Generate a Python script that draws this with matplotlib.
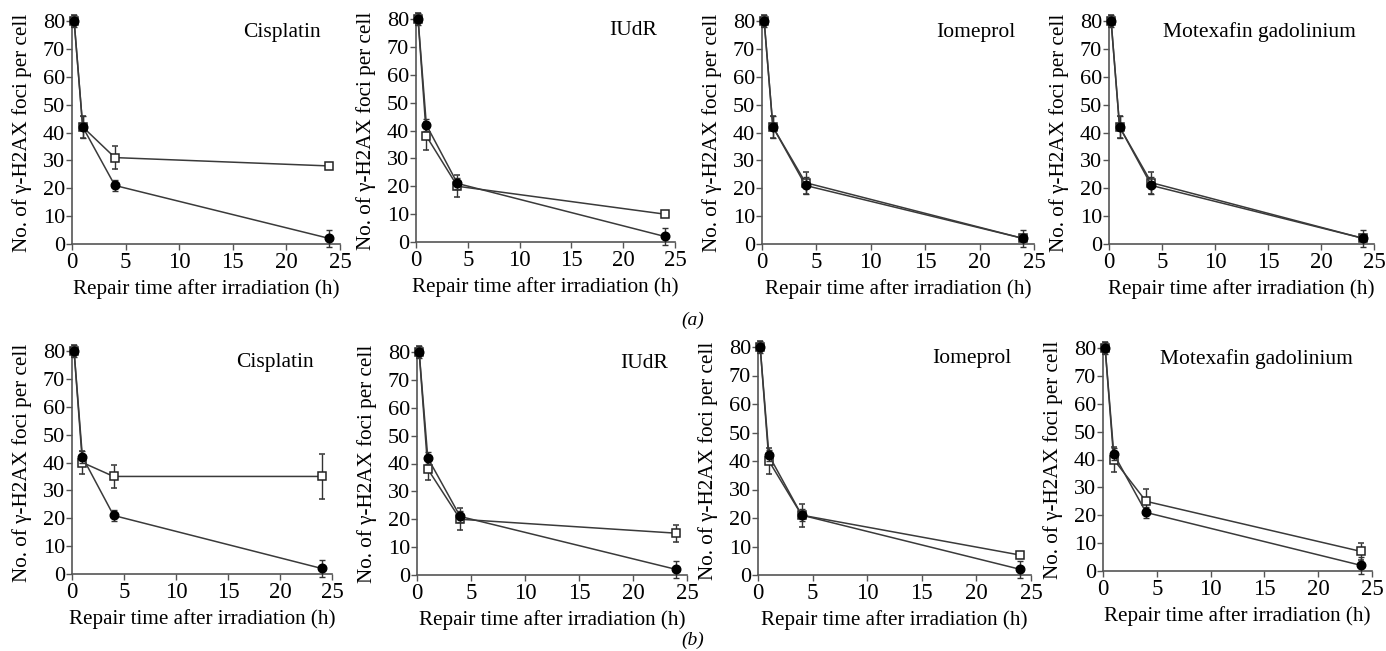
import numpy as np
import matplotlib
matplotlib.use("Agg")
import matplotlib.pyplot as plt

plt.rcParams['font.family'] = ['Liberation Serif', 'DejaVu Serif']

# Données
times = [0.2, 1, 4, 24]
agents = ["Cisplatin", "IUdR", "Iomeprol", "Motexafin gadolinium"]

# (a) : série pleine (cercles) et série ouverte (carrés)
a_filled = [[80, 42, 21, 2], [80, 42, 21, 2], [80, 42, 21, 2], [80, 42, 21, 2]]
a_filled_err = [[2, 4, 2, 3], [2, 2, 2, 3], [2, 4, 3, 3], [2, 4, 3, 3]]
a_open = [[80, 42, 31, 28], [80, 38, 20, 10], [80, 42, 22, 2], [80, 42, 22, 2]]
a_open_err = [[2, 4, 4, 1], [2, 5, 4, 1], [2, 4, 4, 1], [2, 4, 4, 1]]

# (b)
b_filled = [[80, 42, 21, 2], [80, 42, 21, 2], [80, 42, 21, 2], [80, 42, 21, 2]]
b_filled_err = [[2, 2, 2, 3], [2, 2, 2, 3], [2, 2, 2, 3], [2, 2, 2, 3]]
b_open = [[80, 40, 35, 35], [80, 38, 20, 15], [80, 40, 21, 7], [80, 40, 25, 7]]
b_open_err = [[2, 4, 4, 8], [2, 4, 4, 3], [2, 4.5, 4, 1], [2, 4.5, 4.5, 3]]

# Positions des axes en pixels : (x0, x25, y80, y0)
W, H = 1386, 651
layout_a = [(72, 340, 21, 244), (416, 675, 19, 242), (762, 1034, 21, 244), (1109, 1374, 21, 244)]
layout_b = [(72, 332, 351, 574), (417, 687, 352, 575), (758, 1031, 347, 575), (1103, 1372, 348, 571)]

fig = plt.figure(figsize=(W / 100, H / 100), dpi=100)


def draw_panel(box, name, filled, ferr, opn, oerr):
    x0, x1, ytop, ybot = box
    ax = fig.add_axes([x0 / W, 1 - ybot / H, (x1 - x0) / W, (ybot - ytop) / H])
    line_col = "#3a3a3a"
    ax.errorbar(times, opn, yerr=oerr, color=line_col, lw=1.1, marker="s", ms=5.5,
                mfc="white", mec="#222222", mew=1.1, ecolor="#333333", elinewidth=1,
                capsize=2, clip_on=False, zorder=3)
    ax.errorbar(times, filled, yerr=ferr, color=line_col, lw=1.1, marker="o", ms=6.2,
                mfc="black", mec="black", ecolor="#333333", elinewidth=1,
                capsize=2, clip_on=False, zorder=4)
    ax.set_xlim(0, 25)
    ax.set_ylim(0, 80)
    ax.set_xticks([0, 5, 10, 15, 20, 25])
    ax.set_yticks(range(0, 81, 10))
    for s in ["top", "right"]:
        ax.spines[s].set_visible(False)
    for s in ["left", "bottom"]:
        ax.spines[s].set_color("#555555")
        ax.spines[s].set_linewidth(1.2)
    ax.tick_params(axis="x", direction="out", length=4, width=1, color="#555555",
                   labelsize=16.5, pad=1.5)
    ax.tick_params(axis="y", direction="out", length=4, width=1, color="#555555",
                   labelsize=16, pad=1)
    ax.set_xlabel("Repair time after irradiation (h)", fontsize=15.2, labelpad=5)
    ax.set_ylabel("No. of γ-H2AX foci per cell", fontsize=15.2, labelpad=8)
    ax.text(0.93, 0.95, name, transform=ax.transAxes, ha="right", va="center",
            fontsize=15.5)
    return ax


for i in range(4):
    draw_panel(layout_a[i], agents[i], a_filled[i], a_filled_err[i], a_open[i], a_open_err[i])
    draw_panel(layout_b[i], agents[i], b_filled[i], b_filled_err[i], b_open[i], b_open_err[i])

fig.text(693 / W, 1 - 320 / H, "(a)", ha="center", va="center", fontsize=14, style="italic")
fig.text(693 / W, 1 - 640 / H, "(b)", ha="center", va="center", fontsize=14, style="italic")

fig.savefig("out.png", dpi=100, facecolor="white")
